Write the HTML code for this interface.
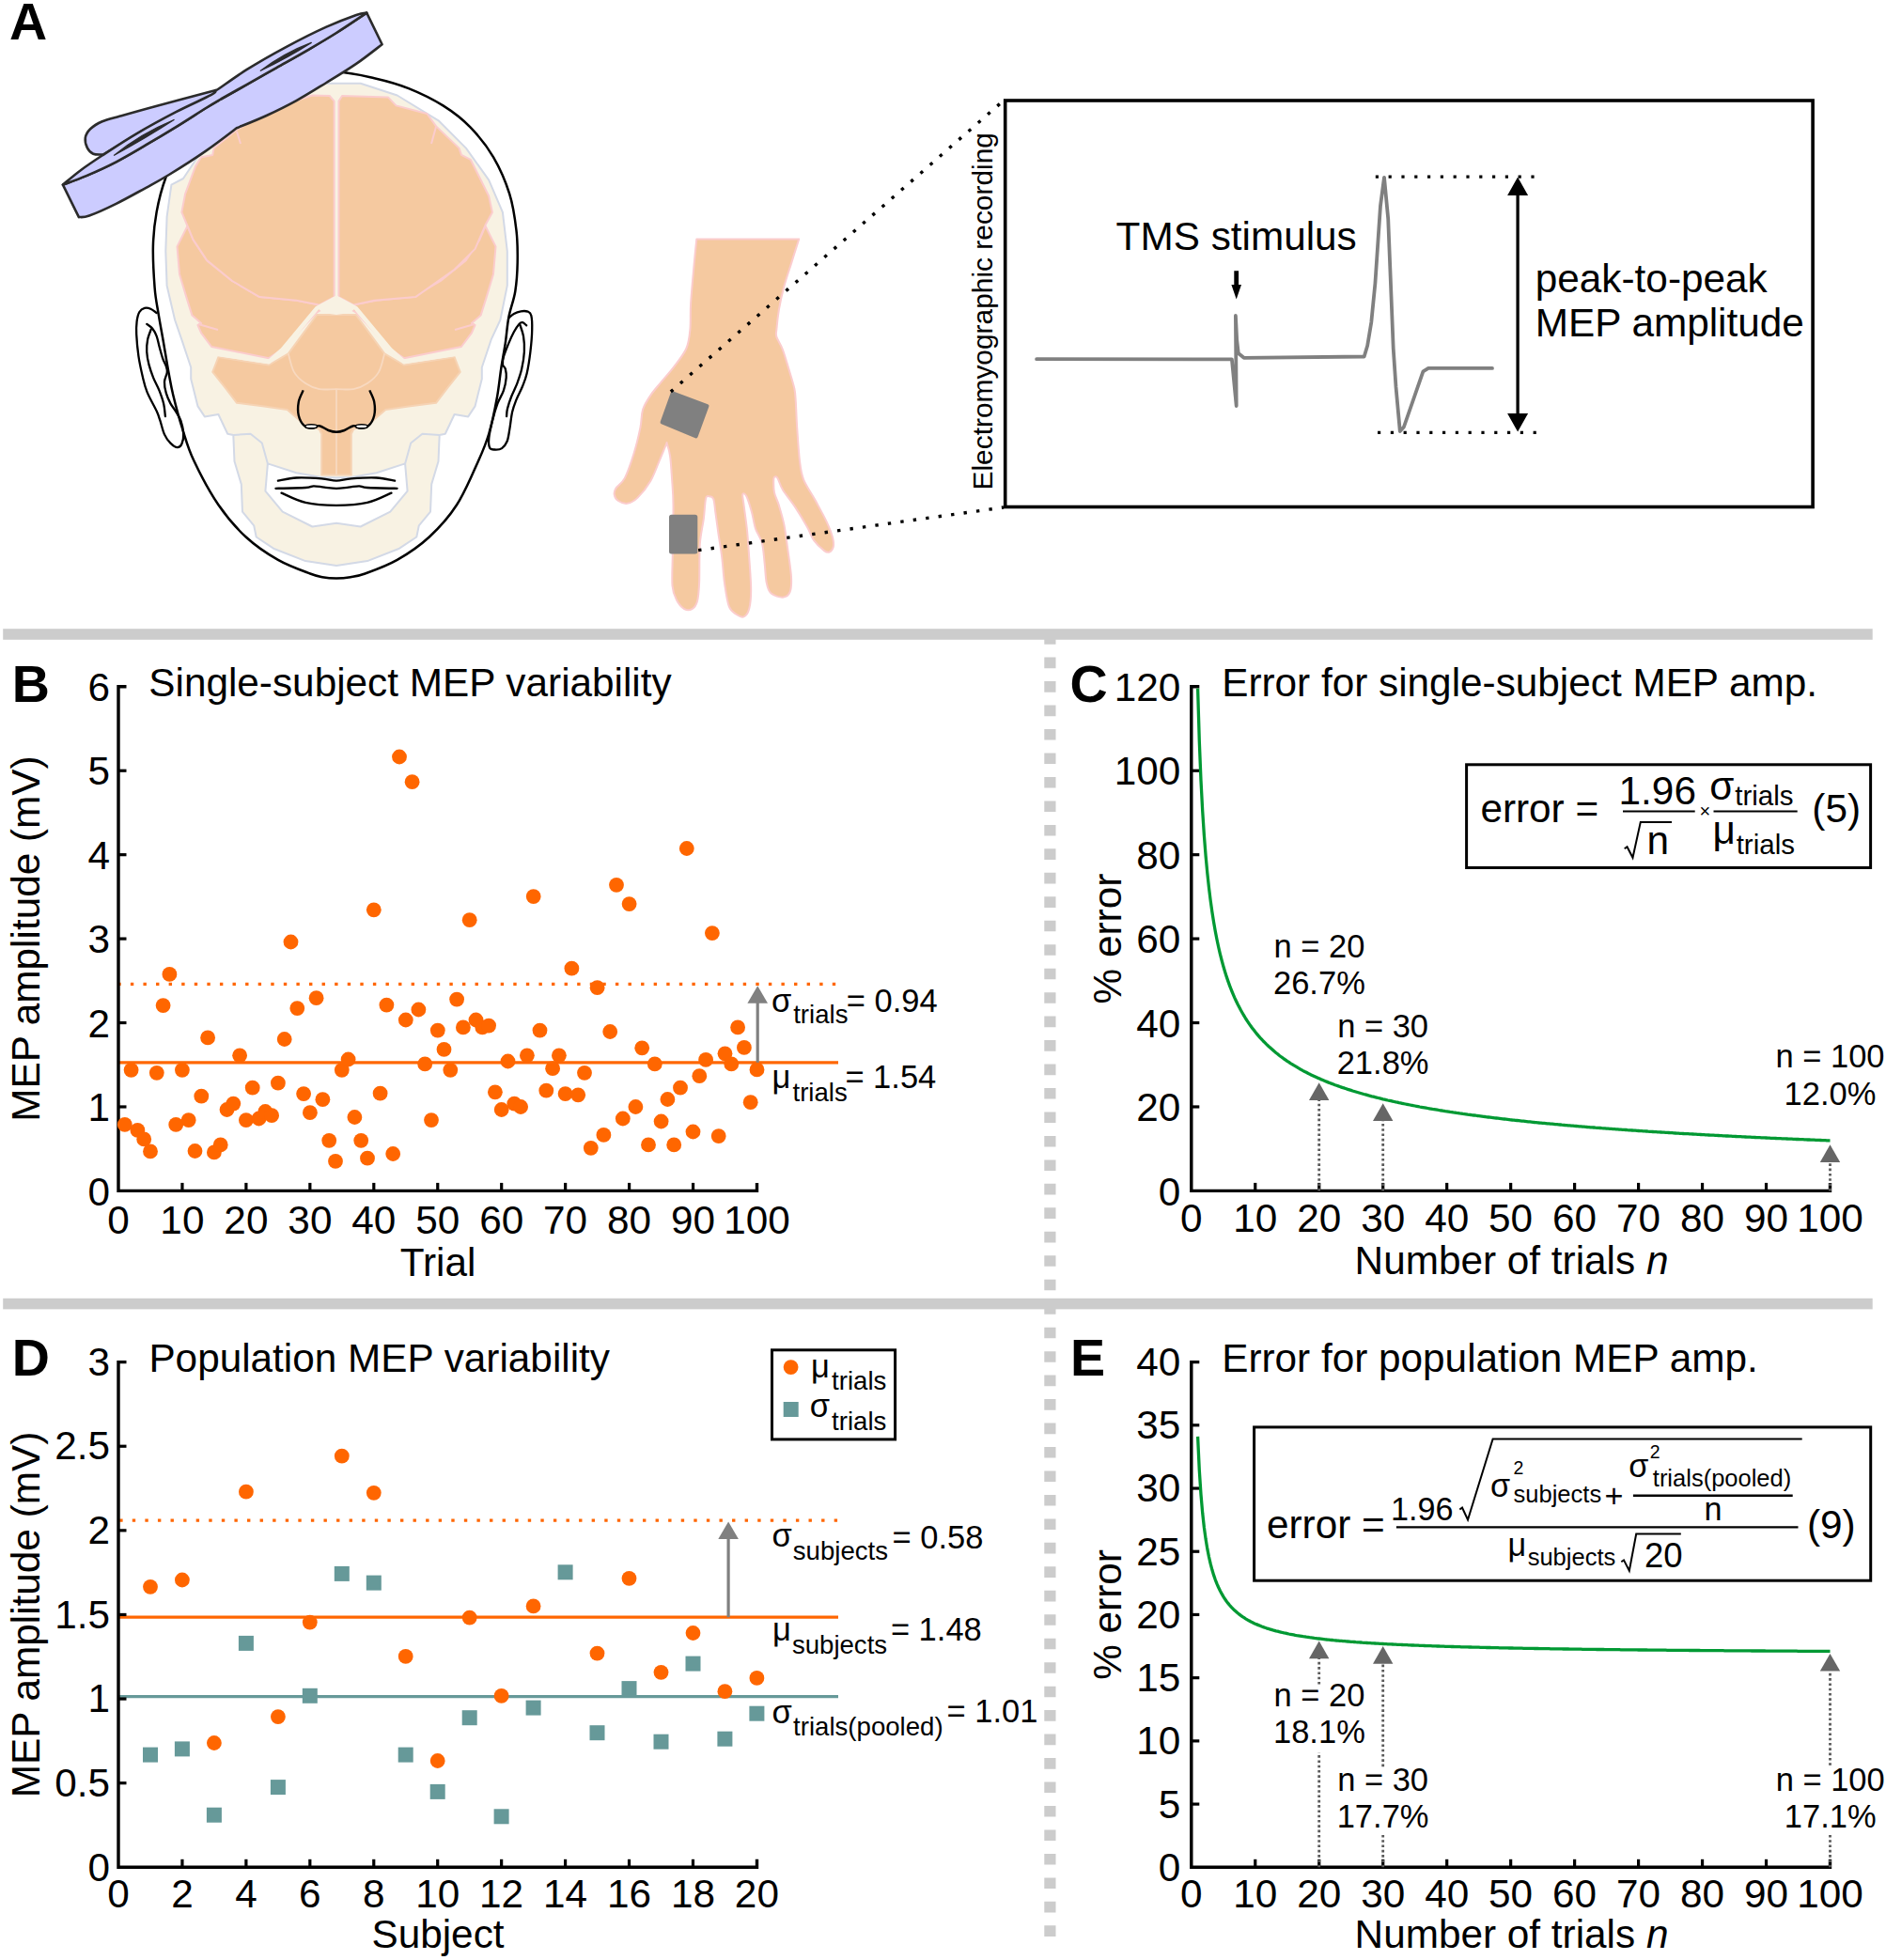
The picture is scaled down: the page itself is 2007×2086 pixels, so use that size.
<!DOCTYPE html>
<html><head><meta charset="utf-8"><title>MEP variability figure</title>
<style>html,body{margin:0;padding:0;background:#fff}svg{display:block}text{font-family:"Liberation Sans",Arial,sans-serif;fill:#000}</style>
</head><body>
<svg width="2007" height="2086" viewBox="0 0 2007 2086">
<rect width="2007" height="2086" fill="#fff"/>
<path d="M358.0,76.5 C372.7,77.0 385.5,80.3 398.3,83.2 C411.1,86.1 422.7,89.2 434.9,94.1 C447.1,99.0 460.5,105.5 471.5,112.4 C482.5,119.3 491.8,126.4 500.7,135.6 C509.6,144.8 518.2,155.5 525.1,167.3 C532.0,179.1 538.1,193.3 542.2,206.3 C546.3,219.3 548.1,233.2 549.5,245.4 C550.9,257.6 550.9,268.7 550.7,279.5 C550.5,290.3 549.8,300.3 548.3,310.0 C546.8,319.7 543.1,328.3 541.4,337.5 C539.6,346.7 539.2,355.9 537.8,365.1 C536.4,374.3 534.7,382.7 533.2,392.6 C531.7,402.6 530.8,413.3 528.6,424.8 C526.5,436.3 523.5,450.6 520.3,461.5 C517.1,472.4 515.0,477.4 509.3,490.0 C503.6,502.6 494.9,523.7 486.1,537.3 C477.4,550.9 467.4,561.7 456.8,571.5 C446.2,581.3 434.1,589.4 422.7,595.9 C411.3,602.4 396.8,607.5 388.5,610.5 C380.2,613.5 378.1,613.4 373.0,614.2 C367.9,615.0 363.0,615.4 358.0,615.4 C353.0,615.4 347.7,615.0 343.0,614.2 C338.3,613.4 337.9,613.5 330.0,610.5 C322.1,607.5 307.3,602.4 295.9,595.9 C284.5,589.4 272.3,581.3 261.7,571.5 C251.1,561.7 241.7,550.9 232.4,537.3 C223.2,523.7 212.5,503.4 206.2,490.0 C199.8,476.6 198.0,468.5 194.3,456.9 C190.6,445.3 186.6,430.1 184.2,420.2 C181.8,410.2 181.3,406.4 179.6,397.2 C177.9,388.0 175.9,375.7 174.1,365.1 C172.3,354.6 170.2,343.8 168.6,333.9 C167.0,324.0 165.5,317.9 164.6,306.0 C163.7,294.1 162.6,275.8 162.9,262.4 C163.2,249.0 164.4,238.1 166.6,225.9 C168.8,213.7 171.6,202.0 176.3,189.3 C181.0,176.7 186.9,162.4 195.0,150.0 C203.1,137.6 213.3,124.7 225.0,115.0 C236.7,105.3 250.8,97.8 265.0,92.0 C279.2,86.2 294.5,82.6 310.0,80.0 C325.5,77.4 343.3,76.0 358.0,76.5Z" fill="#fff" stroke="#000" stroke-width="2.5"/>
<path d="M166.7,333.0 C165.6,332.3 162.4,329.7 160.3,328.8 C158.2,327.9 155.9,327.4 153.9,327.9 C151.9,328.4 149.8,329.6 148.4,332.0 C147.0,334.4 146.1,338.1 145.6,342.1 C145.1,346.1 144.9,349.8 145.2,355.9 C145.5,362.0 146.3,371.2 147.4,378.9 C148.5,386.5 150.5,395.4 152.0,401.8 C153.5,408.2 154.2,411.4 156.6,417.4 C159.0,423.4 164.4,432.6 166.7,437.6 C169.0,442.7 169.0,443.6 170.4,447.7 C171.8,451.8 173.2,458.4 175.0,462.4 C176.8,466.4 179.1,469.3 181.4,471.6 C183.7,473.9 186.8,476.1 188.8,476.2 C190.8,476.3 192.3,474.9 193.4,472.5 C194.5,470.1 195.4,465.6 195.2,461.5 C195.0,457.4 193.8,451.7 192.4,447.7 C191.0,443.7 188.7,440.7 186.9,437.6 C185.1,434.6 183.1,432.6 181.4,429.4 C179.7,426.2 177.9,422.2 176.8,418.4 C175.7,414.6 174.8,410.1 175.0,406.4 C175.2,402.7 177.5,399.1 177.8,396.3 C178.1,393.6 177.6,392.3 176.8,389.9 C176.0,387.4 174.4,385.1 173.2,381.6 C172.0,378.1 170.6,372.8 169.5,368.8 C168.4,364.8 167.9,361.0 166.7,357.8 C165.5,354.6 163.8,351.6 162.1,349.5 C160.3,347.4 157.2,345.7 156.2,344.9" fill="none" stroke="#000" stroke-width="2.3" stroke-linecap="round"/>
<path d="M160.8,350.4 C160.2,352.2 157.9,357.4 157.1,361.4 C156.3,365.4 156.0,369.9 156.2,374.3 C156.4,378.8 157.3,383.5 158.5,388.1 C159.7,392.7 161.3,397.2 163.1,401.8 C164.9,406.4 167.7,411.0 169.5,415.6 C171.3,420.2 173.0,424.8 174.1,429.4 C175.2,434.0 175.6,440.9 175.9,443.2" fill="none" stroke="#000" stroke-width="2.3" stroke-linecap="round"/>
<path d="M541.4,338.5 C542.3,337.7 544.8,335.1 546.9,333.9 C549.0,332.7 551.8,331.7 554.3,331.3 C556.8,330.9 559.8,330.9 561.6,331.6 C563.4,332.3 564.5,332.4 565.3,335.7 C566.1,339.0 566.4,344.9 566.2,351.3 C566.1,357.7 565.3,366.7 564.4,374.3 C563.5,381.9 562.1,391.1 560.7,397.2 C559.3,403.3 557.9,406.4 556.1,411.0 C554.3,415.6 551.5,420.2 549.7,424.8 C547.9,429.4 546.3,433.2 545.1,438.6 C543.9,444.0 543.2,451.7 542.3,456.9 C541.4,462.1 541.0,466.4 539.6,469.8 C538.2,473.2 536.2,475.7 534.1,477.1 C532.0,478.6 528.9,478.6 526.7,478.5 C524.6,478.4 522.3,478.8 521.2,476.7 C520.1,474.6 519.8,470.9 520.3,466.1 C520.8,461.3 522.5,453.8 524.0,447.7 C525.5,441.6 527.5,434.8 529.5,429.4 C531.5,424.0 534.4,420.2 535.9,415.6 C537.4,411.0 538.4,405.6 538.7,401.8 C539.0,398.0 538.4,394.9 537.8,392.6 C537.2,390.3 535.3,390.2 535.0,388.1 C534.7,386.0 534.8,383.6 535.9,379.8 C537.0,376.0 539.6,369.5 541.4,365.1 C543.2,360.7 545.1,356.6 546.9,353.2 C548.7,349.8 550.9,346.6 552.4,344.9 C553.9,343.2 554.8,342.9 556.1,343.1 C557.4,343.3 559.5,345.8 560.2,346.3" fill="none" stroke="#000" stroke-width="2.3" stroke-linecap="round"/>
<path d="M553.4,345.8 C554.0,347.8 556.2,353.1 557.0,357.8 C557.8,362.6 558.2,368.5 557.9,374.3 C557.6,380.1 556.4,387.1 555.2,392.6 C554.0,398.1 552.4,402.4 550.6,407.3 C548.8,412.2 546.0,417.4 544.2,422.0 C542.4,426.6 540.9,431.4 540.0,434.9 C539.1,438.4 539.2,441.8 539.1,443.2" fill="none" stroke="#000" stroke-width="2.3" stroke-linecap="round"/>
<path d="M358.0,88.8 L330.0,88.8 L290.0,100.0 L250.0,125.0 L215.0,160.0 L195.0,190.0 L182.4,196.6 L177.6,230.7 L176.3,267.3 L177.6,303.9 L186.1,340.5 L193.4,361.7 L203.2,391.0 L203.2,403.2 L210.5,432.4 L217.8,443.4 L232.4,441.0 L242.2,461.7 L248.3,462.9 L249.5,491.0 L256.8,515.4 L258.0,544.6 L270.2,559.3 L272.7,571.5 L291.0,583.7 L325.1,597.1 L358.0,602.0 L390.9,597.1 L425.0,583.7 L443.3,571.5 L445.8,559.3 L458.0,544.6 L459.2,515.4 L466.5,491.0 L467.7,462.9 L473.8,461.7 L483.6,441.0 L498.2,443.4 L505.5,432.4 L512.8,403.2 L512.8,391.0 L522.6,361.7 L532.4,340.5 L539.8,303.9 L539.8,267.3 L534.9,225.9 L520.2,191.7 L495.9,157.6 L466.6,128.3 L422.7,101.5 L383.7,88.8Z" fill="#f8f2e3" stroke="#d3d9e6" stroke-width="2" stroke-linejoin="round"/>
<path d="M358.0,508.5 L342.2,508.0 L315.4,503.2 L284.9,493.4 L282.4,522.7 L300.7,544.6 L332.4,560.5 L358.0,556.8 L383.6,560.5 L415.3,544.6 L433.6,522.7 L431.1,493.4 L400.6,503.2 L373.8,508.0 L358.0,508.5Z" fill="#fff" stroke="#d3d9e6" stroke-width="2" stroke-linejoin="round"/>
<path d="M248.3,462.9 L266.6,461.7 L278.8,471.5 L284.9,493.4" fill="none" stroke="#d3d9e6" stroke-width="2" stroke-linejoin="round"/>
<path d="M467.7,462.9 L449.4,461.7 L437.2,471.5 L431.1,493.4" fill="none" stroke="#d3d9e6" stroke-width="2" stroke-linejoin="round"/>
<path d="M358.0,334.9 L337.3,334.9 L306.8,376.3 L286.1,388.5 L232.4,380.0 L226.3,395.9 L239.8,412.9 L252.0,428.8 L281.2,432.4 L305.6,436.1 L322.7,450.7 L339.8,456.8 L342.2,461.7 L342.2,505.6 L358.0,505.6 L373.8,505.6 L373.8,461.7 L376.2,456.8 L393.3,450.7 L410.4,436.1 L434.8,432.4 L464.0,428.8 L476.2,412.9 L489.7,395.9 L483.6,380.0 L429.9,388.5 L409.2,376.3 L378.7,334.9 L358.0,334.9Z" fill="#f5c9a0" stroke="#f6d3b4" stroke-width="2" stroke-linejoin="round"/>
<path d="M306.8,376.3 C307.8,379.6 309.8,390.6 312.9,395.9 C315.9,401.2 320.6,405.0 325.1,408.0 C329.6,411.0 334.3,413.1 339.8,414.1 C345.3,415.1 351.9,414.1 358.0,414.1 C364.1,414.1 370.7,415.1 376.2,414.1 C381.7,413.1 386.4,411.0 390.9,408.0 C395.4,405.0 400.1,401.2 403.1,395.9 C406.2,390.6 408.2,379.6 409.2,376.3" fill="none" stroke="#f8d9c0" stroke-width="1.8"/>
<line x1="358" y1="414" x2="358" y2="505" stroke="#f8d9c0" stroke-width="1.8"/>
<path d="M199.5,240.5 L188.5,262.4 L191.0,291.7 L198.3,316.1 L204.4,335.6 L214.1,344.1 L210.5,346.0 L214.1,354.4 L225.1,369.0 L286.1,381.2 L300.7,371.5 L337.3,332.4 L348.0,326.0 L339.8,324.6 L315.4,319.8 L276.3,316.1 L247.1,299.0 L220.2,277.1 L205.6,255.1Z" fill="#f5c9a0" stroke="#fbcccd" stroke-width="2" stroke-linejoin="round"/>
<path d="M516.5,240.5 L527.5,262.4 L525.0,291.7 L517.7,316.1 L511.6,335.6 L501.9,344.1 L505.5,346.0 L501.9,354.4 L490.9,369.0 L429.9,381.2 L415.3,371.5 L378.7,332.4 L368.0,326.0 L376.2,324.6 L400.6,319.8 L439.7,316.1 L468.9,299.0 L495.8,277.1 L510.4,255.1Z" fill="#f5c9a0" stroke="#fbcccd" stroke-width="2" stroke-linejoin="round"/>
<path d="M332.4,101.5 L350.7,102.0 L355.6,107.6 L355.6,316.1 L339.8,324.6 L315.4,319.8 L276.3,316.1 L247.1,299.0 L220.2,277.1 L205.6,255.1 L199.5,240.5 L193.4,225.9 L197.1,206.3 L208.0,177.1 L214.1,167.3 L226.3,164.9 L227.6,157.6 L252.0,138.0 L290.0,115.0Z" fill="#f5c9a0" stroke="#fbcccd" stroke-width="2" stroke-linejoin="round"/>
<path d="M364.1,102.0 L412.9,103.4 L421.5,112.4 L454.4,121.0 L464.1,134.4 L488.5,157.6 L491.0,164.9 L500.7,169.8 L510.5,189.3 L520.2,208.8 L523.9,225.9 L516.6,239.3 L505.6,264.9 L483.7,286.8 L442.2,316.1 L398.3,319.8 L376.3,324.6 L360.5,316.1 L360.5,107.6Z" fill="#f5c9a0" stroke="#fbcccd" stroke-width="2" stroke-linejoin="round"/>
<path d="M252,140 L256,153" stroke="#fbcccd" stroke-width="2" fill="none"/>
<path d="M464,135 L459,153" stroke="#fbcccd" stroke-width="2" fill="none"/>
<path d="M211,345 L232,351" stroke="#fbcccd" stroke-width="2" fill="none"/>
<path d="M505,345 L484,351" stroke="#fbcccd" stroke-width="2" fill="none"/>
<path d="M358,317 L337.3,328 L300.7,372 L286.1,385 L232,377 M358,317 L378.7,328 L415.3,372 L429.9,385 L484,377" fill="none" stroke="#f8f2e3" stroke-width="4.5" stroke-linejoin="round"/>
<path d="M358,314.5 L336.5,327 L344,333 L358,335 L372,333 L379.5,327 Z" fill="#f8f2e3"/>
<path d="M322.7,415.4 C321.9,417.4 318.6,423.1 317.8,427.6 C317.0,432.1 316.8,437.9 317.8,442.2 C318.8,446.5 321.5,451.0 323.9,453.2 C326.3,455.4 329.8,455.6 332.4,455.6 C335.0,455.6 336.9,452.8 339.8,453.2 C342.7,453.6 346.5,456.9 349.5,458.0 C352.5,459.1 355.2,459.8 358.0,459.8 C360.8,459.8 363.5,459.1 366.5,458.0 C369.5,456.9 373.3,453.6 376.2,453.2 C379.1,452.8 381.0,455.6 383.6,455.6 C386.2,455.6 389.7,455.4 392.1,453.2 C394.5,451.0 397.2,446.5 398.2,442.2 C399.2,437.9 399.0,432.1 398.2,427.6 C397.4,423.1 394.1,417.4 393.3,415.4" fill="none" stroke="#000" stroke-width="2.4"/>
<ellipse cx="331.2" cy="453.8" rx="6.5" ry="2.1" fill="#fff" stroke="#000" stroke-width="1.6"/>
<ellipse cx="384.8" cy="453.8" rx="6.5" ry="2.1" fill="#fff" stroke="#000" stroke-width="1.6"/>
<path d="M295.9,511.7 C299.1,511.2 307.7,508.9 315.4,508.5 C323.1,508.1 335.1,508.8 342.2,509.3 C349.3,509.8 352.7,511.7 358.0,511.7 C363.3,511.7 366.7,509.8 373.8,509.3 C380.9,508.8 392.9,508.1 400.6,508.5 C408.3,508.9 416.9,511.2 420.1,511.7" fill="none" stroke="#000" stroke-width="2.3" stroke-linecap="round"/>
<path d="M293.4,519.8 C298.7,519.7 318.4,519.4 325.1,519.0 C331.8,518.6 330.4,517.4 333.7,517.3 C337.0,517.2 340.9,518.2 345.0,518.6 C349.1,519.0 353.7,519.8 358.0,519.8 C362.3,519.8 366.9,519.0 371.0,518.6 C375.1,518.2 379.0,517.2 382.3,517.3 C385.6,517.4 384.2,518.6 390.9,519.0 C397.6,519.4 417.3,519.7 422.6,519.8" fill="none" stroke="#000" stroke-width="2.3" stroke-linecap="round"/>
<path d="M299.5,524.6 C303.8,526.3 315.4,532.7 325.1,534.9 C334.9,537.1 347.0,537.8 358.0,537.8 C369.0,537.8 381.1,537.1 390.9,534.9 C400.6,532.7 412.2,526.3 416.5,524.6" fill="none" stroke="#000" stroke-width="2.3" stroke-linecap="round"/>
<path d="M229.7,95.9 C219.1,98.7 183.0,108.3 166.0,112.9 C149.0,117.5 137.4,120.8 127.9,123.5 C118.4,126.2 114.1,127.0 108.8,129.3 C103.5,131.6 99.1,134.4 96.1,137.3 C93.1,140.2 91.3,143.5 90.8,146.8 C90.3,150.2 91.5,154.6 92.9,157.4 C94.3,160.2 96.4,162.6 99.2,163.8 C102.0,165.0 108.0,164.4 109.8,164.5 L150,140 L225,104 Z" fill="#ccccff" stroke="#2b2b2b" stroke-width="2.6" stroke-linejoin="round"/>
<path d="M83.9,231.1 C85.8,230.8 88.4,231.9 95.0,229.5 C101.6,227.1 113.5,221.8 123.6,216.8 C133.7,211.9 146.0,204.9 155.4,199.8 C164.8,194.7 169.2,192.5 179.8,186.0 C190.4,179.5 207.1,168.9 219.1,160.6 C231.1,152.3 246.4,140.4 251.8,136.3 C257.1,134.1 273.0,127.9 283.6,123.0 C294.2,118.1 304.8,112.9 315.4,107.1 C326.0,101.3 336.7,94.5 347.3,88.0 C357.9,81.5 369.2,74.7 379.1,67.9 C389.0,61.1 402.0,50.7 406.6,47.2 L390.2,13.6 C384.8,17.2 368.6,28.2 357.9,35.0 C347.2,41.8 336.6,47.9 326.0,54.1 C315.4,60.3 304.8,66.1 294.2,72.1 C283.6,78.1 272.3,84.5 262.4,90.1 C252.5,95.7 239.6,102.9 235.0,105.5 C232.3,107.1 227.0,110.1 219.1,115.0 C211.2,119.9 197.9,128.6 187.3,135.1 C176.7,141.6 166.0,148.0 155.4,154.2 C144.8,160.4 134.2,166.8 123.6,172.3 C113.0,177.8 101.2,183.1 91.8,187.1 C82.3,191.1 71.1,195.0 66.9,196.6 Z" fill="#ccccff" stroke="#2b2b2b" stroke-width="2.6" stroke-linejoin="round"/>
<path d="M66.9,196.6 C70.2,193.9 79.3,186.0 86.5,180.7 C93.7,175.4 100.1,171.2 109.8,164.8 C119.5,158.5 131.9,150.2 144.8,142.6 C157.7,135.0 174.0,126.1 187.3,119.2 C200.6,112.3 217.3,105.0 224.4,101.2 C231.5,97.4 228.8,97.3 229.7,96.5 C235.0,93.2 249.8,82.1 262.4,74.2 C274.9,66.3 290.6,57.4 304.8,49.8 C319.0,42.2 334.9,34.2 347.3,28.6 C359.7,23.0 372.0,18.4 379.1,15.9 C386.2,13.4 388.4,14.0 390.2,13.6 C384.8,17.2 368.6,28.2 357.9,35.0 C347.2,41.8 336.6,47.9 326.0,54.1 C315.4,60.3 304.8,66.1 294.2,72.1 C283.6,78.1 272.3,84.5 262.4,90.1 C252.5,95.7 239.6,102.9 235.0,105.5 C232.3,107.1 227.0,110.1 219.1,115.0 C211.2,119.9 197.9,128.6 187.3,135.1 C176.7,141.6 166.0,148.0 155.4,154.2 C144.8,160.4 134.2,166.8 123.6,172.3 C113.0,177.8 101.2,183.1 91.8,187.1 C82.3,191.1 71.1,195.0 66.9,196.6 Z" fill="#ccccff" stroke="#2b2b2b" stroke-width="2.6" stroke-linejoin="round"/>
<path d="M121.5,165.2 Q149,142.5 185.1,127.5 Q156,146.5 121.5,165.2Z" fill="#2b2b2b" stroke="#2b2b2b" stroke-width="1.3" stroke-linejoin="round"/>
<path d="M277.3,75.2 Q303,56 331.3,45.4 Q307,61 277.3,75.2Z" fill="#2b2b2b" stroke="#2b2b2b" stroke-width="1.3" stroke-linejoin="round"/>
<path d="M741.3,254.5 C740.8,259.0 739.6,270.0 738.6,281.4 C737.6,292.8 735.8,311.2 735.1,322.7 C734.4,334.2 735.2,342.2 734.4,350.3 C733.6,358.4 733.2,364.3 730.3,371.0 C727.4,377.7 721.7,384.3 717.2,390.3 C712.7,396.3 707.5,401.8 703.4,406.8 C699.3,411.9 695.6,415.8 692.4,420.6 C689.2,425.4 685.9,430.1 684.1,435.8 C682.3,441.6 683.0,447.3 681.4,455.1 C679.8,462.9 677.3,473.7 674.5,482.7 C671.7,491.7 668.0,502.7 664.8,508.9 C661.6,515.1 657.0,516.9 655.2,519.9 C653.4,522.9 653.3,524.6 653.8,526.8 C654.2,529.0 655.6,531.5 657.9,533.0 C660.2,534.5 664.1,536.4 667.6,535.8 C671.1,535.2 674.5,533.6 678.6,529.6 C682.7,525.6 688.5,518.4 692.4,511.7 C696.3,505.0 699.2,496.0 702.0,489.6 C704.8,483.2 707.6,475.9 708.9,473.1 C710.2,470.3 709.2,470.5 709.9,472.6 C710.6,474.7 712.2,479.2 713.1,485.5 C714.0,491.8 714.5,501.6 715.1,510.3 C715.7,519.0 716.4,524.6 716.5,537.9 C716.6,551.2 716.0,576.0 715.8,590.2 C715.6,604.4 714.8,615.2 715.5,623.3 C716.2,631.3 717.9,634.4 720.0,638.5 C722.1,642.6 725.5,646.5 728.2,648.1 C731.0,649.7 734.2,649.5 736.5,648.1 C738.8,646.7 740.7,644.5 742.0,639.9 C743.3,635.3 743.6,630.7 744.1,620.6 C744.6,610.5 744.0,590.7 744.8,579.2 C745.6,567.7 747.9,559.6 748.9,551.6 C749.9,543.6 750.1,534.9 751.0,531.0 C751.9,527.1 753.0,528.2 754.4,528.2 C755.8,528.2 758.1,528.2 759.2,531.0 C760.4,533.8 760.5,539.1 761.3,544.8 C762.1,550.5 763.0,557.4 764.1,565.4 C765.2,573.4 767.1,583.8 768.2,593.0 C769.4,602.2 769.7,611.9 771.0,620.6 C772.3,629.3 773.7,639.9 775.8,645.4 C777.9,650.9 780.8,651.9 783.4,653.7 C786.0,655.5 789.3,657.3 791.6,656.4 C793.9,655.5 795.9,652.9 797.2,648.1 C798.5,643.3 799.2,636.7 799.2,627.5 C799.2,618.3 797.9,603.4 797.2,593.0 C796.5,582.6 796.0,574.6 795.1,565.4 C794.2,556.2 792.4,544.4 791.6,537.9 C790.8,531.4 789.8,527.7 790.3,526.1 C790.8,524.5 792.8,525.1 794.4,528.2 C796.0,531.3 798.3,539.0 799.9,544.8 C801.5,550.5 802.2,557.2 804.0,562.7 C805.8,568.2 809.3,571.6 810.9,577.8 C812.5,584.0 812.9,592.8 813.7,599.9 C814.5,607.0 814.6,615.3 815.8,620.6 C816.9,625.9 817.7,629.1 820.6,631.6 C823.5,634.1 829.7,635.9 833.0,635.7 C836.3,635.5 839.1,633.9 840.6,630.2 C842.1,626.5 842.4,621.1 842.0,613.7 C841.6,606.4 839.8,595.3 838.5,586.1 C837.2,576.9 836.0,566.5 834.4,558.5 C832.8,550.5 830.6,543.6 828.9,537.9 C827.2,532.2 824.9,528.7 824.0,524.1 C823.1,519.5 823.2,513.1 823.3,510.3 C823.4,507.5 824.0,507.7 824.7,507.5 C825.4,507.3 826.1,506.6 827.5,508.9 C828.9,511.2 829.8,516.0 833.0,521.3 C836.2,526.6 842.4,533.9 846.8,540.6 C851.2,547.3 856.0,555.5 859.2,561.3 C862.4,567.0 863.1,571.0 866.1,575.1 C869.1,579.2 874.4,584.0 877.1,586.1 C879.9,588.2 881.0,588.2 882.6,587.5 C884.2,586.8 886.2,584.5 886.8,582.0 C887.4,579.5 887.2,576.7 886.1,572.3 C885.0,567.9 883.0,562.5 879.9,555.8 C876.8,549.1 871.6,539.9 867.5,532.3 C863.4,524.7 857.9,517.4 855.1,510.3 C852.3,503.2 852.0,498.8 850.9,489.6 C849.8,480.4 848.9,465.4 848.2,455.1 C847.5,444.8 847.3,434.5 846.8,427.6 C846.3,420.7 846.5,419.3 845.4,413.8 C844.2,408.3 842.0,401.3 839.9,394.4 C837.8,387.5 835.2,378.3 833.0,372.3 C830.8,366.3 827.5,362.3 826.4,358.6 C825.3,354.9 826.0,355.1 826.4,350.3 C826.8,345.5 827.6,337.2 828.9,329.6 C830.2,322.0 832.1,313.3 834.4,304.8 C836.7,296.3 840.0,287.0 842.6,278.6 C845.2,270.2 848.9,258.5 850.2,254.5 Z" fill="#f5c9a0" stroke="#fbcccd" stroke-width="2" stroke-linejoin="round"/>
<path d="M715.8,418.3 L752.5,432.0 L740.7,464.4 L704.6,449.4 Z" fill="#808080" stroke="#808080" stroke-width="4" stroke-linejoin="round"/>
<rect x="713" y="548.8" width="28.3" height="39.7" rx="1.5" fill="#808080" stroke="#808080" stroke-width="2" stroke-linejoin="round"/>
<line x1="713.8" y1="416.9" x2="1068" y2="107" stroke="#000" stroke-width="3.4" stroke-dasharray="3.4 10.18"/>
<line x1="743.1" y1="585.6" x2="1068" y2="540" stroke="#000" stroke-width="3.4" stroke-dasharray="3.4 10.18"/>
<rect x="1069.7" y="107" width="859.4" height="432.5" fill="#fff" stroke="#000" stroke-width="3.6"/>
<text transform="translate(1056.2,331.3) rotate(-90)" font-size="29.9" text-anchor="middle">Electromyographic recording</text>
<text x="1187.6" y="266.3" font-size="42.3">TMS stimulus</text>
<path d="M1313.3,288.3 H1318.1 V303 H1321 L1315.7,318.5 L1310.4,303 H1313.3 Z" fill="#000"/>
<path d="M1103.1,382.2 L1310.9,382.4 L1315.7,432.0 L1314.9,336.0 L1316.2,362.0 L1317.8,376.0 L1323.7,380.8 L1451.7,379.5 L1455.2,367.8 L1459.3,343.0 L1463.4,301.6 L1469.0,218.9 L1473.0,188.8 L1477.2,232.7 L1482.7,370.6 L1485.5,411.9 L1489.8,459.0 L1493.9,454.5 L1514.4,395.4 L1520.0,391.9 L1588.0,391.9" fill="none" stroke="#808080" stroke-width="3.8" stroke-linejoin="round" stroke-linecap="round"/>
<line x1="1463.8" y1="188.1" x2="1634" y2="188.1" stroke="#000" stroke-width="3.2" stroke-dasharray="3.2 10.6"/>
<line x1="1466" y1="460.3" x2="1636" y2="460.3" stroke="#000" stroke-width="3.2" stroke-dasharray="3.2 10.6"/>
<line x1="1615.1" y1="205" x2="1615.1" y2="443" stroke="#000" stroke-width="3.3"/>
<path d="M1615.1,188.6 L1626.1,207.9 H1604.1 Z M1615.1,459.4 L1626.1,440 H1604.1 Z" fill="#000"/>
<text x="1633.8" y="310.7" font-size="42.3">peak-to-peak</text>
<text x="1633.8" y="358.2" font-size="42.3">MEP amplitude</text>
<rect x="3.2" y="669.2" width="1989.5" height="11.6" fill="#cccccc"/>
<rect x="3.2" y="1381.8" width="1989.5" height="11.6" fill="#cccccc"/>
<line x1="1117.4" y1="674.15" x2="1117.4" y2="2061.5" stroke="#cccccc" stroke-width="12.2" stroke-dasharray="11.6 13.866"/>
<text x="10.0" y="41.8" font-size="55.6" font-weight="bold">A</text>
<text x="12.8" y="747.0" font-size="55.6" font-weight="bold">B</text>
<text x="1138.4" y="746.7" font-size="55.6" font-weight="bold">C</text>
<text x="12.8" y="1463.6" font-size="55.6" font-weight="bold">D</text>
<text x="1139.0" y="1464.2" font-size="55.6" font-weight="bold">E</text>
<line x1="126.0" y1="1130.8" x2="892" y2="1130.8" stroke="#ff6600" stroke-width="3.2"/>
<line x1="125.3" y1="1047.3" x2="892" y2="1047.3" stroke="#ff6600" stroke-width="3.3" stroke-dasharray="3.4 10.18"/>
<path d="M134.5,730.8 H126.0 V1267.4 H805.5 V1258.9" fill="none" stroke="#000" stroke-width="3.4" stroke-linejoin="miter"/>
<text x="126.0" y="1312.5" font-size="42.3" text-anchor="middle" >0</text>
<line x1="193.95" y1="1267.4" x2="193.95" y2="1258.9" stroke="#000" stroke-width="3.2"/>
<text x="193.9" y="1312.5" font-size="42.3" text-anchor="middle" >10</text>
<line x1="261.90" y1="1267.4" x2="261.90" y2="1258.9" stroke="#000" stroke-width="3.2"/>
<text x="261.9" y="1312.5" font-size="42.3" text-anchor="middle" >20</text>
<line x1="329.85" y1="1267.4" x2="329.85" y2="1258.9" stroke="#000" stroke-width="3.2"/>
<text x="329.9" y="1312.5" font-size="42.3" text-anchor="middle" >30</text>
<line x1="397.80" y1="1267.4" x2="397.80" y2="1258.9" stroke="#000" stroke-width="3.2"/>
<text x="397.8" y="1312.5" font-size="42.3" text-anchor="middle" >40</text>
<line x1="465.75" y1="1267.4" x2="465.75" y2="1258.9" stroke="#000" stroke-width="3.2"/>
<text x="465.8" y="1312.5" font-size="42.3" text-anchor="middle" >50</text>
<line x1="533.70" y1="1267.4" x2="533.70" y2="1258.9" stroke="#000" stroke-width="3.2"/>
<text x="533.7" y="1312.5" font-size="42.3" text-anchor="middle" >60</text>
<line x1="601.65" y1="1267.4" x2="601.65" y2="1258.9" stroke="#000" stroke-width="3.2"/>
<text x="601.6" y="1312.5" font-size="42.3" text-anchor="middle" >70</text>
<line x1="669.60" y1="1267.4" x2="669.60" y2="1258.9" stroke="#000" stroke-width="3.2"/>
<text x="669.6" y="1312.5" font-size="42.3" text-anchor="middle" >80</text>
<line x1="737.55" y1="1267.4" x2="737.55" y2="1258.9" stroke="#000" stroke-width="3.2"/>
<text x="737.5" y="1312.5" font-size="42.3" text-anchor="middle" >90</text>
<text x="805.5" y="1312.5" font-size="42.3" text-anchor="middle" >100</text>
<text x="117.1" y="1282.5" font-size="42.3" text-anchor="end" >0</text>
<line x1="126.0" y1="1177.97" x2="134.5" y2="1177.97" stroke="#000" stroke-width="3.2"/>
<text x="117.1" y="1193.1" font-size="42.3" text-anchor="end" >1</text>
<line x1="126.0" y1="1088.53" x2="134.5" y2="1088.53" stroke="#000" stroke-width="3.2"/>
<text x="117.1" y="1103.6" font-size="42.3" text-anchor="end" >2</text>
<line x1="126.0" y1="999.10" x2="134.5" y2="999.10" stroke="#000" stroke-width="3.2"/>
<text x="117.1" y="1014.2" font-size="42.3" text-anchor="end" >3</text>
<line x1="126.0" y1="909.67" x2="134.5" y2="909.67" stroke="#000" stroke-width="3.2"/>
<text x="117.1" y="924.8" font-size="42.3" text-anchor="end" >4</text>
<line x1="126.0" y1="820.23" x2="134.5" y2="820.23" stroke="#000" stroke-width="3.2"/>
<text x="117.1" y="835.3" font-size="42.3" text-anchor="end" >5</text>
<text x="117.1" y="745.9" font-size="42.3" text-anchor="end" >6</text>
<text x="466.0" y="1358.0" font-size="42.3" text-anchor="middle" >Trial</text>
<text transform="translate(42.4,999.1) rotate(-90)" font-size="42.3" text-anchor="middle">MEP amplitude (mV)</text>
<text x="158.3" y="741.2" font-size="42.3" >Single-subject MEP variability</text>
<g fill="#ff6600">
<circle cx="132.8" cy="1196.9" r="7.9"/>
<circle cx="139.6" cy="1138.8" r="7.9"/>
<circle cx="146.4" cy="1202.9" r="7.9"/>
<circle cx="153.2" cy="1212.4" r="7.9"/>
<circle cx="160.0" cy="1225.4" r="7.9"/>
<circle cx="166.8" cy="1141.8" r="7.9"/>
<circle cx="173.6" cy="1070.1" r="7.9"/>
<circle cx="180.4" cy="1036.9" r="7.9"/>
<circle cx="187.2" cy="1196.9" r="7.9"/>
<circle cx="193.9" cy="1138.8" r="7.9"/>
<circle cx="200.7" cy="1192.1" r="7.9"/>
<circle cx="207.5" cy="1225.0" r="7.9"/>
<circle cx="214.3" cy="1166.7" r="7.9"/>
<circle cx="221.1" cy="1104.4" r="7.9"/>
<circle cx="227.9" cy="1226.4" r="7.9"/>
<circle cx="234.7" cy="1218.4" r="7.9"/>
<circle cx="241.5" cy="1181.0" r="7.9"/>
<circle cx="248.3" cy="1174.6" r="7.9"/>
<circle cx="255.1" cy="1123.3" r="7.9"/>
<circle cx="261.9" cy="1192.1" r="7.9"/>
<circle cx="268.7" cy="1157.7" r="7.9"/>
<circle cx="275.5" cy="1190.5" r="7.9"/>
<circle cx="282.3" cy="1183.0" r="7.9"/>
<circle cx="289.1" cy="1187.2" r="7.9"/>
<circle cx="295.9" cy="1152.7" r="7.9"/>
<circle cx="302.7" cy="1106.0" r="7.9"/>
<circle cx="309.5" cy="1002.5" r="7.9"/>
<circle cx="316.3" cy="1073.1" r="7.9"/>
<circle cx="323.1" cy="1164.1" r="7.9"/>
<circle cx="329.9" cy="1184.2" r="7.9"/>
<circle cx="336.6" cy="1062.2" r="7.9"/>
<circle cx="343.4" cy="1170.2" r="7.9"/>
<circle cx="350.2" cy="1213.8" r="7.9"/>
<circle cx="357.0" cy="1235.9" r="7.9"/>
<circle cx="363.8" cy="1138.8" r="7.9"/>
<circle cx="370.6" cy="1127.5" r="7.9"/>
<circle cx="377.4" cy="1189.0" r="7.9"/>
<circle cx="384.2" cy="1213.8" r="7.9"/>
<circle cx="391.0" cy="1232.7" r="7.9"/>
<circle cx="397.8" cy="968.3" r="7.9"/>
<circle cx="404.6" cy="1163.7" r="7.9"/>
<circle cx="411.4" cy="1069.6" r="7.9"/>
<circle cx="418.2" cy="1228.0" r="7.9"/>
<circle cx="425.0" cy="805.5" r="7.9"/>
<circle cx="431.8" cy="1085.5" r="7.9"/>
<circle cx="438.6" cy="832.2" r="7.9"/>
<circle cx="445.4" cy="1074.5" r="7.9"/>
<circle cx="452.2" cy="1132.4" r="7.9"/>
<circle cx="459.0" cy="1192.1" r="7.9"/>
<circle cx="465.8" cy="1096.6" r="7.9"/>
<circle cx="472.5" cy="1116.9" r="7.9"/>
<circle cx="479.3" cy="1138.8" r="7.9"/>
<circle cx="486.1" cy="1063.6" r="7.9"/>
<circle cx="492.9" cy="1093.4" r="7.9"/>
<circle cx="499.7" cy="979.2" r="7.9"/>
<circle cx="506.5" cy="1085.5" r="7.9"/>
<circle cx="513.3" cy="1093.4" r="7.9"/>
<circle cx="520.1" cy="1091.6" r="7.9"/>
<circle cx="526.9" cy="1162.3" r="7.9"/>
<circle cx="533.7" cy="1181.0" r="7.9"/>
<circle cx="540.5" cy="1129.5" r="7.9"/>
<circle cx="547.3" cy="1174.6" r="7.9"/>
<circle cx="554.1" cy="1178.0" r="7.9"/>
<circle cx="560.9" cy="1123.3" r="7.9"/>
<circle cx="567.7" cy="954.1" r="7.9"/>
<circle cx="574.5" cy="1096.6" r="7.9"/>
<circle cx="581.3" cy="1160.7" r="7.9"/>
<circle cx="588.1" cy="1137.2" r="7.9"/>
<circle cx="594.9" cy="1123.3" r="7.9"/>
<circle cx="601.6" cy="1164.1" r="7.9"/>
<circle cx="608.4" cy="1030.7" r="7.9"/>
<circle cx="615.2" cy="1165.3" r="7.9"/>
<circle cx="622.0" cy="1141.8" r="7.9"/>
<circle cx="628.8" cy="1221.8" r="7.9"/>
<circle cx="635.6" cy="1051.2" r="7.9"/>
<circle cx="642.4" cy="1207.9" r="7.9"/>
<circle cx="649.2" cy="1098.0" r="7.9"/>
<circle cx="656.0" cy="941.8" r="7.9"/>
<circle cx="662.8" cy="1190.5" r="7.9"/>
<circle cx="669.6" cy="962.1" r="7.9"/>
<circle cx="676.4" cy="1178.0" r="7.9"/>
<circle cx="683.2" cy="1115.3" r="7.9"/>
<circle cx="690.0" cy="1218.4" r="7.9"/>
<circle cx="696.8" cy="1132.4" r="7.9"/>
<circle cx="703.6" cy="1193.5" r="7.9"/>
<circle cx="710.4" cy="1170.0" r="7.9"/>
<circle cx="717.2" cy="1218.4" r="7.9"/>
<circle cx="724.0" cy="1157.7" r="7.9"/>
<circle cx="730.8" cy="903.0" r="7.9"/>
<circle cx="737.5" cy="1204.5" r="7.9"/>
<circle cx="744.3" cy="1145.2" r="7.9"/>
<circle cx="751.1" cy="1127.9" r="7.9"/>
<circle cx="757.9" cy="993.1" r="7.9"/>
<circle cx="764.7" cy="1209.1" r="7.9"/>
<circle cx="771.5" cy="1121.3" r="7.9"/>
<circle cx="778.3" cy="1132.4" r="7.9"/>
<circle cx="785.1" cy="1093.4" r="7.9"/>
<circle cx="791.9" cy="1114.9" r="7.9"/>
<circle cx="798.7" cy="1173.2" r="7.9"/>
<circle cx="805.5" cy="1138.4" r="7.9"/>
</g>
<line x1="806.2" y1="1130.8" x2="806.2" y2="1066.7" stroke="#808080" stroke-width="3.2"/>
<path d="M806.2,1049.2 L817.0,1067.7 H795.4000000000001 Z" fill="#808080"/>
<text font-size="34.5"><tspan x="821.1" y="1076.9">σ</tspan><tspan font-size="27.6" x="844.2" y="1088.5">trials</tspan><tspan x="900.8" y="1076.9">= 0.94</tspan></text>
<text font-size="34.5"><tspan x="821.4" y="1157.6">μ</tspan><tspan font-size="27.6" x="843.5" y="1172.3">trials</tspan><tspan x="899.4" y="1157.6">= 1.54</tspan></text>
<path d="M1276.3,730.8 H1267.8 V1267.4 H1947.5 V1258.9" fill="none" stroke="#000" stroke-width="3.4" stroke-linejoin="miter"/>
<text x="1267.8" y="1310.8" font-size="42.3" text-anchor="middle" >0</text>
<line x1="1335.77" y1="1267.4" x2="1335.77" y2="1258.9" stroke="#000" stroke-width="3.2"/>
<text x="1335.8" y="1310.8" font-size="42.3" text-anchor="middle" >10</text>
<line x1="1403.74" y1="1267.4" x2="1403.74" y2="1258.9" stroke="#000" stroke-width="3.2"/>
<text x="1403.7" y="1310.8" font-size="42.3" text-anchor="middle" >20</text>
<line x1="1471.71" y1="1267.4" x2="1471.71" y2="1258.9" stroke="#000" stroke-width="3.2"/>
<text x="1471.7" y="1310.8" font-size="42.3" text-anchor="middle" >30</text>
<line x1="1539.68" y1="1267.4" x2="1539.68" y2="1258.9" stroke="#000" stroke-width="3.2"/>
<text x="1539.7" y="1310.8" font-size="42.3" text-anchor="middle" >40</text>
<line x1="1607.65" y1="1267.4" x2="1607.65" y2="1258.9" stroke="#000" stroke-width="3.2"/>
<text x="1607.6" y="1310.8" font-size="42.3" text-anchor="middle" >50</text>
<line x1="1675.62" y1="1267.4" x2="1675.62" y2="1258.9" stroke="#000" stroke-width="3.2"/>
<text x="1675.6" y="1310.8" font-size="42.3" text-anchor="middle" >60</text>
<line x1="1743.59" y1="1267.4" x2="1743.59" y2="1258.9" stroke="#000" stroke-width="3.2"/>
<text x="1743.6" y="1310.8" font-size="42.3" text-anchor="middle" >70</text>
<line x1="1811.56" y1="1267.4" x2="1811.56" y2="1258.9" stroke="#000" stroke-width="3.2"/>
<text x="1811.6" y="1310.8" font-size="42.3" text-anchor="middle" >80</text>
<line x1="1879.53" y1="1267.4" x2="1879.53" y2="1258.9" stroke="#000" stroke-width="3.2"/>
<text x="1879.5" y="1310.8" font-size="42.3" text-anchor="middle" >90</text>
<text x="1947.5" y="1310.8" font-size="42.3" text-anchor="middle" >100</text>
<text x="1256.3" y="1282.5" font-size="42.3" text-anchor="end" >0</text>
<line x1="1267.8" y1="1177.97" x2="1276.3" y2="1177.97" stroke="#000" stroke-width="3.2"/>
<text x="1256.3" y="1193.1" font-size="42.3" text-anchor="end" >20</text>
<line x1="1267.8" y1="1088.53" x2="1276.3" y2="1088.53" stroke="#000" stroke-width="3.2"/>
<text x="1256.3" y="1103.6" font-size="42.3" text-anchor="end" >40</text>
<line x1="1267.8" y1="999.10" x2="1276.3" y2="999.10" stroke="#000" stroke-width="3.2"/>
<text x="1256.3" y="1014.2" font-size="42.3" text-anchor="end" >60</text>
<line x1="1267.8" y1="909.67" x2="1276.3" y2="909.67" stroke="#000" stroke-width="3.2"/>
<text x="1256.3" y="924.8" font-size="42.3" text-anchor="end" >80</text>
<line x1="1267.8" y1="820.23" x2="1276.3" y2="820.23" stroke="#000" stroke-width="3.2"/>
<text x="1256.3" y="835.3" font-size="42.3" text-anchor="end" >100</text>
<text x="1256.3" y="745.9" font-size="42.3" text-anchor="end" >120</text>
<text x="1608.5" y="1355.8" font-size="42.3" text-anchor="middle" >Number of trials <tspan font-style="italic">n</tspan></text>
<text transform="translate(1193.3,999.1) rotate(-90)" font-size="42.3" text-anchor="middle">% error</text>
<text x="1300.2" y="741.2" font-size="42.3" >Error for single-subject MEP amp.</text>
<path d="M1274.6,732.6 L1276.3,789.1 L1278.0,830.7 L1279.7,863.1 L1281.4,889.2 L1283.1,910.9 L1284.8,929.2 L1286.5,944.9 L1288.2,958.6 L1289.9,970.7 L1291.6,981.5 L1293.3,991.2 L1295.0,1000.0 L1296.7,1008.0 L1298.4,1015.3 L1300.1,1022.0 L1301.8,1028.2 L1303.5,1034.0 L1305.2,1039.4 L1306.9,1044.4 L1308.6,1049.1 L1310.3,1053.5 L1312.0,1057.6 L1313.7,1061.6 L1315.4,1065.3 L1317.1,1068.8 L1318.8,1072.1 L1320.5,1075.3 L1322.2,1078.3 L1323.9,1081.2 L1325.6,1084.0 L1327.3,1086.6 L1329.0,1089.1 L1330.7,1091.6 L1332.4,1093.9 L1334.1,1096.1 L1335.8,1098.3 L1337.5,1100.4 L1339.2,1102.4 L1340.9,1104.3 L1342.6,1106.1 L1344.3,1108.0 L1346.0,1109.7 L1347.7,1111.4 L1349.4,1113.0 L1351.1,1114.6 L1352.8,1116.1 L1354.5,1117.6 L1356.2,1119.1 L1357.9,1120.5 L1359.6,1121.8 L1361.3,1123.2 L1363.0,1124.5 L1364.7,1125.7 L1366.4,1127.0 L1368.1,1128.1 L1369.8,1129.3 L1371.5,1130.4 L1373.2,1131.6 L1374.9,1132.6 L1376.6,1133.7 L1378.3,1134.7 L1380.0,1135.7 L1381.6,1136.7 L1383.3,1137.7 L1385.0,1138.6 L1386.7,1139.6 L1388.4,1140.5 L1390.1,1141.3 L1391.8,1142.2 L1393.5,1143.1 L1395.2,1143.9 L1396.9,1144.7 L1398.6,1145.5 L1400.3,1146.3 L1402.0,1147.1 L1403.7,1147.8 L1405.4,1148.6 L1407.1,1149.3 L1408.8,1150.0 L1410.5,1150.7 L1412.2,1151.4 L1413.9,1152.1 L1415.6,1152.7 L1417.3,1153.4 L1419.0,1154.0 L1420.7,1154.7 L1422.4,1155.3 L1424.1,1155.9 L1425.8,1156.5 L1427.5,1157.1 L1429.2,1157.7 L1430.9,1158.2 L1432.6,1158.8 L1434.3,1159.4 L1436.0,1159.9 L1437.7,1160.4 L1439.4,1161.0 L1441.1,1161.5 L1442.8,1162.0 L1444.5,1162.5 L1446.2,1163.0 L1447.9,1163.5 L1449.6,1164.0 L1451.3,1164.5 L1453.0,1164.9 L1454.7,1165.4 L1456.4,1165.9 L1458.1,1166.3 L1459.8,1166.8 L1461.5,1167.2 L1463.2,1167.7 L1464.9,1168.1 L1466.6,1168.5 L1468.3,1168.9 L1470.0,1169.3 L1471.7,1169.8 L1473.4,1170.2 L1475.1,1170.6 L1476.8,1171.0 L1478.5,1171.3 L1480.2,1171.7 L1481.9,1172.1 L1483.6,1172.5 L1485.3,1172.9 L1487.0,1173.2 L1488.7,1173.6 L1490.4,1173.9 L1492.1,1174.3 L1493.8,1174.7 L1495.5,1175.0 L1497.2,1175.3 L1498.9,1175.7 L1500.6,1176.0 L1502.3,1176.3 L1504.0,1176.7 L1505.7,1177.0 L1507.4,1177.3 L1509.1,1177.6 L1510.8,1178.0 L1512.5,1178.3 L1514.2,1178.6 L1515.9,1178.9 L1517.6,1179.2 L1519.3,1179.5 L1521.0,1179.8 L1522.7,1180.1 L1524.4,1180.4 L1526.1,1180.6 L1527.8,1180.9 L1529.5,1181.2 L1531.2,1181.5 L1532.9,1181.8 L1534.6,1182.0 L1536.3,1182.3 L1538.0,1182.6 L1539.7,1182.8 L1541.4,1183.1 L1543.1,1183.4 L1544.8,1183.6 L1546.5,1183.9 L1548.2,1184.1 L1549.9,1184.4 L1551.6,1184.6 L1553.3,1184.9 L1555.0,1185.1 L1556.7,1185.4 L1558.4,1185.6 L1560.1,1185.8 L1561.8,1186.1 L1563.5,1186.3 L1565.2,1186.5 L1566.9,1186.8 L1568.6,1187.0 L1570.3,1187.2 L1572.0,1187.5 L1573.7,1187.7 L1575.4,1187.9 L1577.1,1188.1 L1578.8,1188.3 L1580.5,1188.5 L1582.2,1188.8 L1583.9,1189.0 L1585.6,1189.2 L1587.3,1189.4 L1589.0,1189.6 L1590.7,1189.8 L1592.4,1190.0 L1594.1,1190.2 L1595.8,1190.4 L1597.5,1190.6 L1599.2,1190.8 L1600.9,1191.0 L1602.6,1191.2 L1604.3,1191.4 L1606.0,1191.6 L1607.6,1191.8 L1609.3,1192.0 L1611.0,1192.1 L1612.7,1192.3 L1614.4,1192.5 L1616.1,1192.7 L1617.8,1192.9 L1619.5,1193.1 L1621.2,1193.2 L1622.9,1193.4 L1624.6,1193.6 L1626.3,1193.8 L1628.0,1193.9 L1629.7,1194.1 L1631.4,1194.3 L1633.1,1194.5 L1634.8,1194.6 L1636.5,1194.8 L1638.2,1195.0 L1639.9,1195.1 L1641.6,1195.3 L1643.3,1195.4 L1645.0,1195.6 L1646.7,1195.8 L1648.4,1195.9 L1650.1,1196.1 L1651.8,1196.2 L1653.5,1196.4 L1655.2,1196.6 L1656.9,1196.7 L1658.6,1196.9 L1660.3,1197.0 L1662.0,1197.2 L1663.7,1197.3 L1665.4,1197.5 L1667.1,1197.6 L1668.8,1197.8 L1670.5,1197.9 L1672.2,1198.1 L1673.9,1198.2 L1675.6,1198.4 L1677.3,1198.5 L1679.0,1198.6 L1680.7,1198.8 L1682.4,1198.9 L1684.1,1199.1 L1685.8,1199.2 L1687.5,1199.3 L1689.2,1199.5 L1690.9,1199.6 L1692.6,1199.8 L1694.3,1199.9 L1696.0,1200.0 L1697.7,1200.2 L1699.4,1200.3 L1701.1,1200.4 L1702.8,1200.5 L1704.5,1200.7 L1706.2,1200.8 L1707.9,1200.9 L1709.6,1201.1 L1711.3,1201.2 L1713.0,1201.3 L1714.7,1201.4 L1716.4,1201.6 L1718.1,1201.7 L1719.8,1201.8 L1721.5,1201.9 L1723.2,1202.1 L1724.9,1202.2 L1726.6,1202.3 L1728.3,1202.4 L1730.0,1202.5 L1731.7,1202.7 L1733.4,1202.8 L1735.1,1202.9 L1736.8,1203.0 L1738.5,1203.1 L1740.2,1203.2 L1741.9,1203.4 L1743.6,1203.5 L1745.3,1203.6 L1747.0,1203.7 L1748.7,1203.8 L1750.4,1203.9 L1752.1,1204.0 L1753.8,1204.2 L1755.5,1204.3 L1757.2,1204.4 L1758.9,1204.5 L1760.6,1204.6 L1762.3,1204.7 L1764.0,1204.8 L1765.7,1204.9 L1767.4,1205.0 L1769.1,1205.1 L1770.8,1205.2 L1772.5,1205.3 L1774.2,1205.4 L1775.9,1205.5 L1777.6,1205.6 L1779.3,1205.7 L1781.0,1205.9 L1782.7,1206.0 L1784.4,1206.1 L1786.1,1206.2 L1787.8,1206.3 L1789.5,1206.4 L1791.2,1206.5 L1792.9,1206.6 L1794.6,1206.6 L1796.3,1206.7 L1798.0,1206.8 L1799.7,1206.9 L1801.4,1207.0 L1803.1,1207.1 L1804.8,1207.2 L1806.5,1207.3 L1808.2,1207.4 L1809.9,1207.5 L1811.6,1207.6 L1813.3,1207.7 L1815.0,1207.8 L1816.7,1207.9 L1818.4,1208.0 L1820.1,1208.1 L1821.8,1208.2 L1823.5,1208.2 L1825.2,1208.3 L1826.9,1208.4 L1828.6,1208.5 L1830.3,1208.6 L1832.0,1208.7 L1833.7,1208.8 L1835.3,1208.9 L1837.0,1209.0 L1838.7,1209.0 L1840.4,1209.1 L1842.1,1209.2 L1843.8,1209.3 L1845.5,1209.4 L1847.2,1209.5 L1848.9,1209.6 L1850.6,1209.6 L1852.3,1209.7 L1854.0,1209.8 L1855.7,1209.9 L1857.4,1210.0 L1859.1,1210.1 L1860.8,1210.1 L1862.5,1210.2 L1864.2,1210.3 L1865.9,1210.4 L1867.6,1210.5 L1869.3,1210.6 L1871.0,1210.6 L1872.7,1210.7 L1874.4,1210.8 L1876.1,1210.9 L1877.8,1210.9 L1879.5,1211.0 L1881.2,1211.1 L1882.9,1211.2 L1884.6,1211.3 L1886.3,1211.3 L1888.0,1211.4 L1889.7,1211.5 L1891.4,1211.6 L1893.1,1211.6 L1894.8,1211.7 L1896.5,1211.8 L1898.2,1211.9 L1899.9,1211.9 L1901.6,1212.0 L1903.3,1212.1 L1905.0,1212.2 L1906.7,1212.2 L1908.4,1212.3 L1910.1,1212.4 L1911.8,1212.5 L1913.5,1212.5 L1915.2,1212.6 L1916.9,1212.7 L1918.6,1212.7 L1920.3,1212.8 L1922.0,1212.9 L1923.7,1213.0 L1925.4,1213.0 L1927.1,1213.1 L1928.8,1213.2 L1930.5,1213.2 L1932.2,1213.3 L1933.9,1213.4 L1935.6,1213.4 L1937.3,1213.5 L1939.0,1213.6 L1940.7,1213.6 L1942.4,1213.7 L1944.1,1213.8 L1945.8,1213.9 L1947.5,1213.9" fill="none" stroke="#009933" stroke-width="3.3" stroke-linejoin="round"/>
<line x1="1403.7" y1="1267.4" x2="1403.7" y2="1169.7" stroke="#5a5a5a" stroke-width="2.8" stroke-dasharray="2.6 2.7"/>
<path d="M1403.7,1152.2 L1414.4,1170.9 H1393.0 Z" fill="#666666"/>
<line x1="1471.7" y1="1267.4" x2="1471.7" y2="1191.7" stroke="#5a5a5a" stroke-width="2.8" stroke-dasharray="2.6 2.7"/>
<path d="M1471.7,1174.2 L1482.4,1192.9 H1461.0 Z" fill="#666666"/>
<line x1="1947.5" y1="1267.4" x2="1947.5" y2="1235.8" stroke="#5a5a5a" stroke-width="2.8" stroke-dasharray="2.6 2.7"/>
<path d="M1947.5,1218.3 L1958.2,1237.0 H1936.8 Z" fill="#666666"/>
<text x="1403.9" y="1019.0" font-size="34.5" text-anchor="middle" >n = 20</text>
<text x="1403.9" y="1058.2" font-size="34.5" text-anchor="middle" >26.7%</text>
<text x="1471.6" y="1103.8" font-size="34.5" text-anchor="middle" >n = 30</text>
<text x="1471.6" y="1143.0" font-size="34.5" text-anchor="middle" >21.8%</text>
<text x="1947.5" y="1136.4" font-size="34.5" text-anchor="middle" >n = 100</text>
<text x="1947.5" y="1175.6" font-size="34.5" text-anchor="middle" >12.0%</text>
<line x1="126.0" y1="1721.2" x2="892" y2="1721.2" stroke="#ff6600" stroke-width="3.2"/>
<line x1="126.0" y1="1805.6" x2="892" y2="1805.6" stroke="#669999" stroke-width="3.2"/>
<line x1="127.2" y1="1618.2" x2="892" y2="1618.2" stroke="#ff6600" stroke-width="3.3" stroke-dasharray="3.4 10.18"/>
<path d="M134.5,1449.6 H126.0 V1987.3 H805.5 V1978.8" fill="none" stroke="#000" stroke-width="3.4" stroke-linejoin="miter"/>
<text x="126.0" y="2030.3" font-size="42.3" text-anchor="middle" >0</text>
<line x1="193.94" y1="1987.3" x2="193.94" y2="1978.8" stroke="#000" stroke-width="3.2"/>
<text x="193.9" y="2030.3" font-size="42.3" text-anchor="middle" >2</text>
<line x1="261.88" y1="1987.3" x2="261.88" y2="1978.8" stroke="#000" stroke-width="3.2"/>
<text x="261.9" y="2030.3" font-size="42.3" text-anchor="middle" >4</text>
<line x1="329.82" y1="1987.3" x2="329.82" y2="1978.8" stroke="#000" stroke-width="3.2"/>
<text x="329.8" y="2030.3" font-size="42.3" text-anchor="middle" >6</text>
<line x1="397.76" y1="1987.3" x2="397.76" y2="1978.8" stroke="#000" stroke-width="3.2"/>
<text x="397.8" y="2030.3" font-size="42.3" text-anchor="middle" >8</text>
<line x1="465.70" y1="1987.3" x2="465.70" y2="1978.8" stroke="#000" stroke-width="3.2"/>
<text x="465.7" y="2030.3" font-size="42.3" text-anchor="middle" >10</text>
<line x1="533.64" y1="1987.3" x2="533.64" y2="1978.8" stroke="#000" stroke-width="3.2"/>
<text x="533.6" y="2030.3" font-size="42.3" text-anchor="middle" >12</text>
<line x1="601.58" y1="1987.3" x2="601.58" y2="1978.8" stroke="#000" stroke-width="3.2"/>
<text x="601.6" y="2030.3" font-size="42.3" text-anchor="middle" >14</text>
<line x1="669.52" y1="1987.3" x2="669.52" y2="1978.8" stroke="#000" stroke-width="3.2"/>
<text x="669.5" y="2030.3" font-size="42.3" text-anchor="middle" >16</text>
<line x1="737.46" y1="1987.3" x2="737.46" y2="1978.8" stroke="#000" stroke-width="3.2"/>
<text x="737.5" y="2030.3" font-size="42.3" text-anchor="middle" >18</text>
<text x="805.4" y="2030.3" font-size="42.3" text-anchor="middle" >20</text>
<text x="117.1" y="2001.5" font-size="42.3" text-anchor="end" >0</text>
<line x1="126.0" y1="1897.68" x2="134.5" y2="1897.68" stroke="#000" stroke-width="3.2"/>
<text x="117.1" y="1911.9" font-size="42.3" text-anchor="end" >0.5</text>
<line x1="126.0" y1="1808.07" x2="134.5" y2="1808.07" stroke="#000" stroke-width="3.2"/>
<text x="117.1" y="1822.3" font-size="42.3" text-anchor="end" >1</text>
<line x1="126.0" y1="1718.45" x2="134.5" y2="1718.45" stroke="#000" stroke-width="3.2"/>
<text x="117.1" y="1732.6" font-size="42.3" text-anchor="end" >1.5</text>
<line x1="126.0" y1="1628.83" x2="134.5" y2="1628.83" stroke="#000" stroke-width="3.2"/>
<text x="117.1" y="1643.0" font-size="42.3" text-anchor="end" >2</text>
<line x1="126.0" y1="1539.22" x2="134.5" y2="1539.22" stroke="#000" stroke-width="3.2"/>
<text x="117.1" y="1553.4" font-size="42.3" text-anchor="end" >2.5</text>
<text x="117.1" y="1463.8" font-size="42.3" text-anchor="end" >3</text>
<text x="466.0" y="2072.5" font-size="42.3" text-anchor="middle" >Subject</text>
<text transform="translate(42.4,1718.4499999999998) rotate(-90)" font-size="42.3" text-anchor="middle">MEP amplitude (mV)</text>
<text x="158.4" y="1460.0" font-size="42.3" >Population MEP variability</text>
<g fill="#669999">
<rect x="152.0" y="1859.6" width="16" height="16"/>
<rect x="185.9" y="1853.4" width="16" height="16"/>
<rect x="219.9" y="1923.7" width="16" height="16"/>
<rect x="253.9" y="1740.9" width="16" height="16"/>
<rect x="287.9" y="1894.1" width="16" height="16"/>
<rect x="321.8" y="1796.8" width="16" height="16"/>
<rect x="355.8" y="1666.9" width="16" height="16"/>
<rect x="389.8" y="1676.6" width="16" height="16"/>
<rect x="423.7" y="1859.6" width="16" height="16"/>
<rect x="457.7" y="1898.9" width="16" height="16"/>
<rect x="491.7" y="1820.2" width="16" height="16"/>
<rect x="525.6" y="1925.3" width="16" height="16"/>
<rect x="559.6" y="1809.6" width="16" height="16"/>
<rect x="593.6" y="1665.3" width="16" height="16"/>
<rect x="627.5" y="1836.2" width="16" height="16"/>
<rect x="661.5" y="1789.1" width="16" height="16"/>
<rect x="695.5" y="1845.7" width="16" height="16"/>
<rect x="729.5" y="1762.6" width="16" height="16"/>
<rect x="763.4" y="1842.7" width="16" height="16"/>
<rect x="797.4" y="1815.7" width="16" height="16"/>
</g>
<g fill="#ff6600">
<circle cx="160.0" cy="1688.8" r="7.9"/>
<circle cx="193.9" cy="1681.5" r="7.9"/>
<circle cx="227.9" cy="1855.0" r="7.9"/>
<circle cx="261.9" cy="1587.7" r="7.9"/>
<circle cx="295.9" cy="1827.1" r="7.9"/>
<circle cx="329.8" cy="1726.6" r="7.9"/>
<circle cx="363.8" cy="1549.7" r="7.9"/>
<circle cx="397.8" cy="1588.8" r="7.9"/>
<circle cx="431.7" cy="1762.9" r="7.9"/>
<circle cx="465.7" cy="1874.0" r="7.9"/>
<circle cx="499.7" cy="1721.6" r="7.9"/>
<circle cx="533.6" cy="1804.9" r="7.9"/>
<circle cx="567.6" cy="1709.4" r="7.9"/>
<circle cx="635.5" cy="1759.6" r="7.9"/>
<circle cx="669.5" cy="1679.8" r="7.9"/>
<circle cx="703.5" cy="1779.8" r="7.9"/>
<circle cx="737.5" cy="1738.0" r="7.9"/>
<circle cx="771.4" cy="1800.2" r="7.9"/>
<circle cx="805.4" cy="1785.9" r="7.9"/>
</g>
<line x1="775.1" y1="1721.2" x2="775.1" y2="1637.1" stroke="#808080" stroke-width="3.2"/>
<path d="M775.1,1619.6 L785.9,1638.1 H764.3000000000001 Z" fill="#808080"/>
<text font-size="34.5"><tspan x="821.4" y="1646.2">σ</tspan><tspan font-size="27.6" x="843.8" y="1660">subjects</tspan><tspan x="949.6" y="1647.9">= 0.58</tspan></text>
<text font-size="34.5"><tspan x="821.9" y="1746.2">μ</tspan><tspan font-size="27.6" x="842.9" y="1760.3">subjects</tspan><tspan x="947.9" y="1745.8">= 1.48</tspan></text>
<text font-size="34.5"><tspan x="821.4" y="1834">σ</tspan><tspan font-size="27.6" x="844.1" y="1846.8">trials(pooled)</tspan><tspan x="1007.5" y="1833.1">= 1.01</tspan></text>
<rect x="821.5" y="1436.8" width="131.1" height="95.1" fill="#fff" stroke="#000" stroke-width="3"/>
<circle cx="841.6" cy="1455.1" r="7.9" fill="#ff6600"/>
<rect x="833.7" y="1492" width="16" height="16" fill="#669999"/>
<text font-size="34.5"><tspan x="862.9" y="1466.3">μ</tspan><tspan font-size="27.6" x="885.1" y="1479.4">trials</tspan></text>
<text font-size="34.5"><tspan x="861.7" y="1507.8">σ</tspan><tspan font-size="27.6" x="885.1" y="1521.8">trials</tspan></text>
<path d="M1276.3,1449.6 H1267.8 V1987.3 H1947.5 V1978.8" fill="none" stroke="#000" stroke-width="3.4" stroke-linejoin="miter"/>
<text x="1267.8" y="2029.5" font-size="42.3" text-anchor="middle" >0</text>
<line x1="1335.77" y1="1987.3" x2="1335.77" y2="1978.8" stroke="#000" stroke-width="3.2"/>
<text x="1335.8" y="2029.5" font-size="42.3" text-anchor="middle" >10</text>
<line x1="1403.74" y1="1987.3" x2="1403.74" y2="1978.8" stroke="#000" stroke-width="3.2"/>
<text x="1403.7" y="2029.5" font-size="42.3" text-anchor="middle" >20</text>
<line x1="1471.71" y1="1987.3" x2="1471.71" y2="1978.8" stroke="#000" stroke-width="3.2"/>
<text x="1471.7" y="2029.5" font-size="42.3" text-anchor="middle" >30</text>
<line x1="1539.68" y1="1987.3" x2="1539.68" y2="1978.8" stroke="#000" stroke-width="3.2"/>
<text x="1539.7" y="2029.5" font-size="42.3" text-anchor="middle" >40</text>
<line x1="1607.65" y1="1987.3" x2="1607.65" y2="1978.8" stroke="#000" stroke-width="3.2"/>
<text x="1607.6" y="2029.5" font-size="42.3" text-anchor="middle" >50</text>
<line x1="1675.62" y1="1987.3" x2="1675.62" y2="1978.8" stroke="#000" stroke-width="3.2"/>
<text x="1675.6" y="2029.5" font-size="42.3" text-anchor="middle" >60</text>
<line x1="1743.59" y1="1987.3" x2="1743.59" y2="1978.8" stroke="#000" stroke-width="3.2"/>
<text x="1743.6" y="2029.5" font-size="42.3" text-anchor="middle" >70</text>
<line x1="1811.56" y1="1987.3" x2="1811.56" y2="1978.8" stroke="#000" stroke-width="3.2"/>
<text x="1811.6" y="2029.5" font-size="42.3" text-anchor="middle" >80</text>
<line x1="1879.53" y1="1987.3" x2="1879.53" y2="1978.8" stroke="#000" stroke-width="3.2"/>
<text x="1879.5" y="2029.5" font-size="42.3" text-anchor="middle" >90</text>
<text x="1947.5" y="2029.5" font-size="42.3" text-anchor="middle" >100</text>
<text x="1256.3" y="2001.7" font-size="42.3" text-anchor="end" >0</text>
<line x1="1267.8" y1="1920.09" x2="1276.3" y2="1920.09" stroke="#000" stroke-width="3.2"/>
<text x="1256.3" y="1934.5" font-size="42.3" text-anchor="end" >5</text>
<line x1="1267.8" y1="1852.88" x2="1276.3" y2="1852.88" stroke="#000" stroke-width="3.2"/>
<text x="1256.3" y="1867.3" font-size="42.3" text-anchor="end" >10</text>
<line x1="1267.8" y1="1785.66" x2="1276.3" y2="1785.66" stroke="#000" stroke-width="3.2"/>
<text x="1256.3" y="1800.1" font-size="42.3" text-anchor="end" >15</text>
<line x1="1267.8" y1="1718.45" x2="1276.3" y2="1718.45" stroke="#000" stroke-width="3.2"/>
<text x="1256.3" y="1732.8" font-size="42.3" text-anchor="end" >20</text>
<line x1="1267.8" y1="1651.24" x2="1276.3" y2="1651.24" stroke="#000" stroke-width="3.2"/>
<text x="1256.3" y="1665.6" font-size="42.3" text-anchor="end" >25</text>
<line x1="1267.8" y1="1584.02" x2="1276.3" y2="1584.02" stroke="#000" stroke-width="3.2"/>
<text x="1256.3" y="1598.4" font-size="42.3" text-anchor="end" >30</text>
<line x1="1267.8" y1="1516.81" x2="1276.3" y2="1516.81" stroke="#000" stroke-width="3.2"/>
<text x="1256.3" y="1531.2" font-size="42.3" text-anchor="end" >35</text>
<text x="1256.3" y="1464.0" font-size="42.3" text-anchor="end" >40</text>
<text x="1608.5" y="2072.5" font-size="42.3" text-anchor="middle" >Number of trials <tspan font-style="italic">n</tspan></text>
<text transform="translate(1193.3,1718.4499999999998) rotate(-90)" font-size="42.3" text-anchor="middle">% error</text>
<text x="1300.2" y="1460.0" font-size="42.3" >Error for population MEP amp.</text>
<path d="M1274.6,1528.8 L1276.3,1564.9 L1278.0,1590.7 L1279.7,1610.3 L1281.4,1625.7 L1283.1,1638.1 L1284.8,1648.4 L1286.5,1657.0 L1288.2,1664.4 L1289.9,1670.8 L1291.6,1676.4 L1293.3,1681.3 L1295.0,1685.6 L1296.7,1689.5 L1298.4,1693.0 L1300.1,1696.2 L1301.8,1699.1 L1303.5,1701.8 L1305.2,1704.2 L1306.9,1706.4 L1308.6,1708.5 L1310.3,1710.4 L1312.0,1712.1 L1313.7,1713.8 L1315.4,1715.3 L1317.1,1716.8 L1318.8,1718.1 L1320.5,1719.4 L1322.2,1720.6 L1323.9,1721.7 L1325.6,1722.8 L1327.3,1723.8 L1329.0,1724.8 L1330.7,1725.7 L1332.4,1726.6 L1334.1,1727.4 L1335.8,1728.2 L1337.5,1728.9 L1339.2,1729.6 L1340.9,1730.3 L1342.6,1731.0 L1344.3,1731.6 L1346.0,1732.2 L1347.7,1732.8 L1349.4,1733.3 L1351.1,1733.9 L1352.8,1734.4 L1354.5,1734.9 L1356.2,1735.3 L1357.9,1735.8 L1359.6,1736.2 L1361.3,1736.7 L1363.0,1737.1 L1364.7,1737.5 L1366.4,1737.9 L1368.1,1738.2 L1369.8,1738.6 L1371.5,1739.0 L1373.2,1739.3 L1374.9,1739.6 L1376.6,1739.9 L1378.3,1740.3 L1380.0,1740.6 L1381.6,1740.8 L1383.3,1741.1 L1385.0,1741.4 L1386.7,1741.7 L1388.4,1741.9 L1390.1,1742.2 L1391.8,1742.4 L1393.5,1742.7 L1395.2,1742.9 L1396.9,1743.1 L1398.6,1743.4 L1400.3,1743.6 L1402.0,1743.8 L1403.7,1744.0 L1405.4,1744.2 L1407.1,1744.4 L1408.8,1744.6 L1410.5,1744.8 L1412.2,1745.0 L1413.9,1745.1 L1415.6,1745.3 L1417.3,1745.5 L1419.0,1745.7 L1420.7,1745.8 L1422.4,1746.0 L1424.1,1746.1 L1425.8,1746.3 L1427.5,1746.4 L1429.2,1746.6 L1430.9,1746.7 L1432.6,1746.9 L1434.3,1747.0 L1436.0,1747.1 L1437.7,1747.3 L1439.4,1747.4 L1441.1,1747.5 L1442.8,1747.7 L1444.5,1747.8 L1446.2,1747.9 L1447.9,1748.0 L1449.6,1748.2 L1451.3,1748.3 L1453.0,1748.4 L1454.7,1748.5 L1456.4,1748.6 L1458.1,1748.7 L1459.8,1748.8 L1461.5,1748.9 L1463.2,1749.0 L1464.9,1749.1 L1466.6,1749.2 L1468.3,1749.3 L1470.0,1749.4 L1471.7,1749.5 L1473.4,1749.6 L1475.1,1749.7 L1476.8,1749.8 L1478.5,1749.9 L1480.2,1749.9 L1481.9,1750.0 L1483.6,1750.1 L1485.3,1750.2 L1487.0,1750.3 L1488.7,1750.4 L1490.4,1750.4 L1492.1,1750.5 L1493.8,1750.6 L1495.5,1750.7 L1497.2,1750.7 L1498.9,1750.8 L1500.6,1750.9 L1502.3,1751.0 L1504.0,1751.0 L1505.7,1751.1 L1507.4,1751.2 L1509.1,1751.2 L1510.8,1751.3 L1512.5,1751.4 L1514.2,1751.4 L1515.9,1751.5 L1517.6,1751.6 L1519.3,1751.6 L1521.0,1751.7 L1522.7,1751.7 L1524.4,1751.8 L1526.1,1751.9 L1527.8,1751.9 L1529.5,1752.0 L1531.2,1752.0 L1532.9,1752.1 L1534.6,1752.1 L1536.3,1752.2 L1538.0,1752.3 L1539.7,1752.3 L1541.4,1752.4 L1543.1,1752.4 L1544.8,1752.5 L1546.5,1752.5 L1548.2,1752.6 L1549.9,1752.6 L1551.6,1752.7 L1553.3,1752.7 L1555.0,1752.8 L1556.7,1752.8 L1558.4,1752.8 L1560.1,1752.9 L1561.8,1752.9 L1563.5,1753.0 L1565.2,1753.0 L1566.9,1753.1 L1568.6,1753.1 L1570.3,1753.2 L1572.0,1753.2 L1573.7,1753.2 L1575.4,1753.3 L1577.1,1753.3 L1578.8,1753.4 L1580.5,1753.4 L1582.2,1753.5 L1583.9,1753.5 L1585.6,1753.5 L1587.3,1753.6 L1589.0,1753.6 L1590.7,1753.6 L1592.4,1753.7 L1594.1,1753.7 L1595.8,1753.8 L1597.5,1753.8 L1599.2,1753.8 L1600.9,1753.9 L1602.6,1753.9 L1604.3,1753.9 L1606.0,1754.0 L1607.6,1754.0 L1609.3,1754.0 L1611.0,1754.1 L1612.7,1754.1 L1614.4,1754.1 L1616.1,1754.2 L1617.8,1754.2 L1619.5,1754.2 L1621.2,1754.3 L1622.9,1754.3 L1624.6,1754.3 L1626.3,1754.4 L1628.0,1754.4 L1629.7,1754.4 L1631.4,1754.4 L1633.1,1754.5 L1634.8,1754.5 L1636.5,1754.5 L1638.2,1754.6 L1639.9,1754.6 L1641.6,1754.6 L1643.3,1754.7 L1645.0,1754.7 L1646.7,1754.7 L1648.4,1754.7 L1650.1,1754.8 L1651.8,1754.8 L1653.5,1754.8 L1655.2,1754.8 L1656.9,1754.9 L1658.6,1754.9 L1660.3,1754.9 L1662.0,1754.9 L1663.7,1755.0 L1665.4,1755.0 L1667.1,1755.0 L1668.8,1755.0 L1670.5,1755.1 L1672.2,1755.1 L1673.9,1755.1 L1675.6,1755.1 L1677.3,1755.2 L1679.0,1755.2 L1680.7,1755.2 L1682.4,1755.2 L1684.1,1755.3 L1685.8,1755.3 L1687.5,1755.3 L1689.2,1755.3 L1690.9,1755.3 L1692.6,1755.4 L1694.3,1755.4 L1696.0,1755.4 L1697.7,1755.4 L1699.4,1755.5 L1701.1,1755.5 L1702.8,1755.5 L1704.5,1755.5 L1706.2,1755.5 L1707.9,1755.6 L1709.6,1755.6 L1711.3,1755.6 L1713.0,1755.6 L1714.7,1755.6 L1716.4,1755.7 L1718.1,1755.7 L1719.8,1755.7 L1721.5,1755.7 L1723.2,1755.7 L1724.9,1755.8 L1726.6,1755.8 L1728.3,1755.8 L1730.0,1755.8 L1731.7,1755.8 L1733.4,1755.9 L1735.1,1755.9 L1736.8,1755.9 L1738.5,1755.9 L1740.2,1755.9 L1741.9,1755.9 L1743.6,1756.0 L1745.3,1756.0 L1747.0,1756.0 L1748.7,1756.0 L1750.4,1756.0 L1752.1,1756.0 L1753.8,1756.1 L1755.5,1756.1 L1757.2,1756.1 L1758.9,1756.1 L1760.6,1756.1 L1762.3,1756.1 L1764.0,1756.2 L1765.7,1756.2 L1767.4,1756.2 L1769.1,1756.2 L1770.8,1756.2 L1772.5,1756.2 L1774.2,1756.3 L1775.9,1756.3 L1777.6,1756.3 L1779.3,1756.3 L1781.0,1756.3 L1782.7,1756.3 L1784.4,1756.3 L1786.1,1756.4 L1787.8,1756.4 L1789.5,1756.4 L1791.2,1756.4 L1792.9,1756.4 L1794.6,1756.4 L1796.3,1756.4 L1798.0,1756.5 L1799.7,1756.5 L1801.4,1756.5 L1803.1,1756.5 L1804.8,1756.5 L1806.5,1756.5 L1808.2,1756.5 L1809.9,1756.6 L1811.6,1756.6 L1813.3,1756.6 L1815.0,1756.6 L1816.7,1756.6 L1818.4,1756.6 L1820.1,1756.6 L1821.8,1756.7 L1823.5,1756.7 L1825.2,1756.7 L1826.9,1756.7 L1828.6,1756.7 L1830.3,1756.7 L1832.0,1756.7 L1833.7,1756.7 L1835.3,1756.8 L1837.0,1756.8 L1838.7,1756.8 L1840.4,1756.8 L1842.1,1756.8 L1843.8,1756.8 L1845.5,1756.8 L1847.2,1756.8 L1848.9,1756.8 L1850.6,1756.9 L1852.3,1756.9 L1854.0,1756.9 L1855.7,1756.9 L1857.4,1756.9 L1859.1,1756.9 L1860.8,1756.9 L1862.5,1756.9 L1864.2,1757.0 L1865.9,1757.0 L1867.6,1757.0 L1869.3,1757.0 L1871.0,1757.0 L1872.7,1757.0 L1874.4,1757.0 L1876.1,1757.0 L1877.8,1757.0 L1879.5,1757.1 L1881.2,1757.1 L1882.9,1757.1 L1884.6,1757.1 L1886.3,1757.1 L1888.0,1757.1 L1889.7,1757.1 L1891.4,1757.1 L1893.1,1757.1 L1894.8,1757.1 L1896.5,1757.2 L1898.2,1757.2 L1899.9,1757.2 L1901.6,1757.2 L1903.3,1757.2 L1905.0,1757.2 L1906.7,1757.2 L1908.4,1757.2 L1910.1,1757.2 L1911.8,1757.2 L1913.5,1757.3 L1915.2,1757.3 L1916.9,1757.3 L1918.6,1757.3 L1920.3,1757.3 L1922.0,1757.3 L1923.7,1757.3 L1925.4,1757.3 L1927.1,1757.3 L1928.8,1757.3 L1930.5,1757.3 L1932.2,1757.4 L1933.9,1757.4 L1935.6,1757.4 L1937.3,1757.4 L1939.0,1757.4 L1940.7,1757.4 L1942.4,1757.4 L1944.1,1757.4 L1945.8,1757.4 L1947.5,1757.4" fill="none" stroke="#009933" stroke-width="3.3" stroke-linejoin="round"/>
<line x1="1403.7" y1="1792.6" x2="1403.7" y2="1764.0" stroke="#5a5a5a" stroke-width="2.8" stroke-dasharray="2.6 2.7"/>
<line x1="1403.7" y1="1987.3" x2="1403.7" y2="1865.2" stroke="#5a5a5a" stroke-width="2.8" stroke-dasharray="2.6 2.7"/>
<path d="M1403.7,1746.5 L1414.4,1765.2 H1393.0 Z" fill="#666666"/>
<line x1="1471.7" y1="1880.2" x2="1471.7" y2="1769.5" stroke="#5a5a5a" stroke-width="2.8" stroke-dasharray="2.6 2.7"/>
<line x1="1471.7" y1="1987.3" x2="1471.7" y2="1952.8" stroke="#5a5a5a" stroke-width="2.8" stroke-dasharray="2.6 2.7"/>
<path d="M1471.7,1752.0 L1482.4,1770.7 H1461.0 Z" fill="#666666"/>
<line x1="1947.5" y1="1878.8" x2="1947.5" y2="1777.4" stroke="#5a5a5a" stroke-width="2.8" stroke-dasharray="2.6 2.7"/>
<line x1="1947.5" y1="1987.3" x2="1947.5" y2="1953.0" stroke="#5a5a5a" stroke-width="2.8" stroke-dasharray="2.6 2.7"/>
<path d="M1947.5,1759.9 L1958.2,1778.6 H1936.8 Z" fill="#666666"/>
<text x="1403.9" y="1815.6" font-size="34.5" text-anchor="middle" >n = 20</text>
<text x="1403.9" y="1855.2" font-size="34.5" text-anchor="middle" >18.1%</text>
<text x="1471.6" y="1905.8" font-size="34.5" text-anchor="middle" >n = 30</text>
<text x="1471.6" y="1945.2" font-size="34.5" text-anchor="middle" >17.7%</text>
<text x="1947.7" y="1905.8" font-size="34.5" text-anchor="middle" >n = 100</text>
<text x="1947.7" y="1945.2" font-size="34.5" text-anchor="middle" >17.1%</text>
<!-- formula (5) -->
<g>
<rect x="1560.6" y="813.8" width="430" height="109.7" fill="#fff" stroke="#000" stroke-width="3"/>
<text x="1575.4" y="874.9" font-size="42.3">error =</text>
<text x="1722.6" y="856.4" font-size="42.3">1.96</text>
<line x1="1727" y1="863.5" x2="1803.7" y2="863.5" stroke="#000" stroke-width="2.2"/>
<path d="M1728.7,903.2 L1731.5,901.2 L1737.5,912.8 L1745.8,874.9 H1779" fill="none" stroke="#000" stroke-width="2"/>
<text x="1752.6" y="909.4" font-size="42.3">n</text>
<text x="1814.4" y="870.3" font-size="20" text-anchor="middle">×</text>
<text x="1819.3" y="850.7" font-size="42.3">σ<tspan font-size="29.5" dx="0.8" dy="6.2">trials</tspan></text>
<line x1="1823.5" y1="863.5" x2="1912.7" y2="863.5" stroke="#000" stroke-width="2.2"/>
<text x="1822.5" y="897.7" font-size="42.3">μ<tspan font-size="29.5" dx="0.8" dy="11.7">trials</tspan></text>
<text x="1928.3" y="874.9" font-size="42.3">(5)</text>
</g>
<!-- formula (9) -->
<g>
<rect x="1334.6" y="1518.9" width="656.1" height="163.3" fill="#fff" stroke="#000" stroke-width="3"/>
<text x="1348" y="1636.8" font-size="42.3">error =</text>
<text x="1480" y="1618.3" font-size="34.2">1.96</text>
<line x1="1485.9" y1="1625.4" x2="1913.5" y2="1625.4" stroke="#000" stroke-width="2.4"/>
<path d="M1553.3,1606.5 L1556,1604.6 L1562,1617.5 L1588.6,1531.4 H1917.7" fill="none" stroke="#000" stroke-width="2"/>
<text x="1586" y="1592.9" font-size="34.2">σ</text>
<text x="1610.6" y="1568.9" font-size="19.5">2</text>
<text x="1610.6" y="1598.6" font-size="25.5">subjects</text>
<text x="1707.5" y="1604.2" font-size="34.2">+</text>
<text x="1733.2" y="1572.1" font-size="34.2">σ</text>
<text x="1755.8" y="1552" font-size="19.5">2</text>
<text x="1758.8" y="1581.7" font-size="25.5">trials(pooled)</text>
<line x1="1737.9" y1="1591.8" x2="1907.7" y2="1591.8" stroke="#000" stroke-width="2.4"/>
<text x="1813.6" y="1618.3" font-size="34.2">n</text>
<text x="1604.6" y="1655.9" font-size="34.2">μ</text>
<text x="1625.7" y="1665.9" font-size="25.5">subjects</text>
<path d="M1725.3,1662.3 L1728,1660.4 L1733.8,1671.6 L1741.2,1632.6 H1788.8" fill="none" stroke="#000" stroke-width="2"/>
<text x="1750" y="1667.5" font-size="36.5">20</text>
<text x="1922.9" y="1636.8" font-size="42.3">(9)</text>
</g>

</svg>
</body></html>
